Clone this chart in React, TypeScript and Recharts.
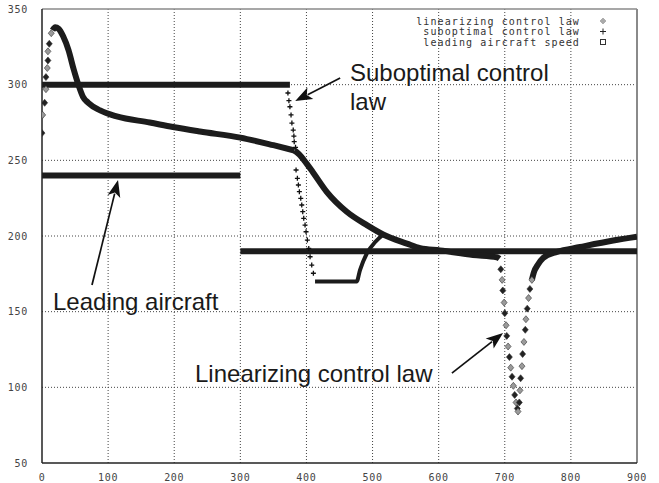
import {
  ComposedChart,
  Line,
  Scatter,
  XAxis,
  YAxis,
  CartesianGrid,
  ReferenceLine,
} from "recharts";

const xTicks = [0, 100, 200, 300, 400, 500, 600, 700, 800, 900];
const yTicks = [50, 100, 150, 200, 250, 300, 350];

// leading aircraft speed (two steps)
const leadAX = [0, 300];
const leadAY = [240, 240];
const leadBX = [300, 900];
const leadBY = [190, 190];

// linearizing control law
const linStartX = [0, 1, 4, 6, 6, 8, 9, 9, 11, 14];
const linStartY = [268, 280, 288, 297, 305, 311, 316, 322, 327, 334];
const linMainX = [16, 20, 25, 32, 40, 48, 55, 62, 70, 88, 113, 163, 198, 239, 300, 350, 382];
const linMainY = [336, 338, 337, 332, 323, 310, 300, 292, 288, 283, 279, 275, 272, 269, 265, 260, 256.5];
const linFallX = [382, 389, 400, 410, 431, 461, 492, 516, 552, 572, 602, 652, 688, 692];
const linFallY = [256.5, 254, 248, 242, 229, 216, 207, 201, 195, 192, 190.5, 187.5, 186, 185];
const linDipX = [694, 696, 697, 699, 700, 702, 703, 705, 707, 709, 711, 713, 715, 717, 719, 720, 722, 723, 724, 726, 727, 729, 731, 732, 734, 736, 738, 741];
const linDipY = [178, 171, 164, 156, 149, 141, 134, 127, 120, 113, 107, 101, 95, 90, 86, 84, 90, 98, 106, 114, 122, 130, 138, 145, 152, 159, 165, 171];
const linEndX = [741, 744, 750, 758, 779, 814, 864, 900];
const linEndY = [171, 176, 181, 185.5, 189.5, 192.7, 197, 199.5];

// suboptimal control law
const subSatX = [-2, 375];
const subSatY = [300, 300];
const subDropX = [372, 373.5, 375, 376.7, 378, 380, 381, 381.5, 383.5, 384.3, 386.3, 387.8, 389.3, 391.4, 392.9, 394.4, 395.9, 397.9, 399.4, 401.4, 403.5, 405.5, 408, 410.5];
const subDropY = [294.5, 289.4, 285.4, 280, 274.6, 270, 266, 262.3, 258.6, 243.6, 238.1, 233.7, 229.3, 224.9, 220.5, 216.1, 211.7, 207.2, 202.8, 197.3, 191.8, 186.3, 180.8, 175.4];
const subFloorX = [413, 476, 481, 492, 504, 516];
const subFloorY = [170, 170, 177.5, 189, 196, 201];

const legendNames = ["linearizing control law", "suboptimal control law", "leading aircraft speed"];

const pts = (xs: number[], ys: number[]) => xs.map((x, i) => ({ x, y: ys[i], i }));

const MONO = "'DejaVu Sans Mono', monospace";
const SANS = "'Liberation Sans', Arial, sans-serif";
const INK = "#1c1c1c";

const Diamond = (props: any) => {
  const { cx, cy, payload } = props;
  const fill = payload && payload.i % 2 ? "#9a9a9a" : "#222";
  return <path d={`M${cx},${cy - 3.5}L${cx + 3},${cy}L${cx},${cy + 3.5}L${cx - 3},${cy}Z`} fill={fill} stroke="#333" strokeWidth={0.6} />;
};

const Plus = (props: any) => {
  const { cx, cy } = props;
  return <path d={`M${cx - 2.5},${cy}H${cx + 2.5}M${cx},${cy - 2.5}V${cy + 2.5}`} stroke="#111" strokeWidth={1.3} />;
};

const Arrow = (props: any) => {
  const { x1, y1, x2, y2 } = props;
  if ([x1, y1, x2, y2].some((v) => typeof v !== "number")) return null;
  const dx = x2 - x1;
  const dy = y2 - y1;
  const len = Math.hypot(dx, dy);
  const ux = dx / len;
  const uy = dy / len;
  const hl = 17;
  const hw = 6.5;
  const bx = x2 - ux * hl;
  const by = y2 - uy * hl;
  return (
    <g>
      <line x1={x1} y1={y1} x2={bx + ux * 3} y2={by + uy * 3} stroke="#111" strokeWidth={1.7} />
      <path d={`M${x2},${y2}L${bx - uy * hw},${by + ux * hw}L${bx + ux * 4},${by + uy * 4}L${bx + uy * hw},${by - ux * hw}Z`} fill="#111" />
    </g>
  );
};

const thick = { stroke: INK, dot: false, isAnimationActive: false, strokeLinecap: "butt" as const, legendType: "none" as const };

export default function App() {
  return (
    <div style={{ position: "absolute", left: 0, top: 0, width: 659, height: 483, background: "#fff" }}>
      <ComposedChart width={659} height={483} margin={{ top: 9, right: 22, bottom: 0, left: 0 }}>
        <XAxis
          dataKey="x"
          type="number"
          domain={[0, 900]}
          ticks={xTicks}
          allowDataOverflow
          height={20}
          tickLine={false}
          tickMargin={5}
          axisLine={{ stroke: "#222", strokeWidth: 1.5 }}
          tick={{ fill: "#444", fontFamily: MONO, fontSize: 10, letterSpacing: 0.7 }}
        />
        <YAxis
          type="number"
          domain={[50, 350]}
          ticks={yTicks}
          allowDataOverflow
          width={42}
          tickLine={false}
          tickMargin={8}
          axisLine={{ stroke: "#222", strokeWidth: 1.5 }}
          tick={{ fill: "#444", fontFamily: MONO, fontSize: 10, letterSpacing: 0.7 }}
        />
        {xTicks.slice(1, -1).map((v) => (
          <ReferenceLine key={`gx${v}`} x={v} stroke="#444" strokeWidth={1} strokeDasharray="1 2" />
        ))}
        {yTicks.slice(1, -1).map((v) => (
          <ReferenceLine key={`gy${v}`} y={v} stroke="#444" strokeWidth={1} strokeDasharray="1 2" />
        ))}
        <ReferenceLine y={350} stroke="#8a8a8a" strokeWidth={1.5} />
        <ReferenceLine x={900} stroke="#8a8a8a" strokeWidth={2} />

        <Line {...thick} data={pts(leadAX, leadAY)} dataKey="y" strokeWidth={6} />
        <Line {...thick} data={pts(leadBX, leadBY)} dataKey="y" strokeWidth={6} />
        <Line {...thick} data={pts(subSatX, subSatY)} dataKey="y" strokeWidth={6} />
        <Line {...thick} type="monotone" data={pts(linMainX, linMainY)} dataKey="y" strokeWidth={6} />
        <Line {...thick} type="monotone" data={pts(linFallX, linFallY)} dataKey="y" strokeWidth={6} />
        <Line {...thick} type="monotone" data={pts(linEndX, linEndY)} dataKey="y" strokeWidth={6} />
        <Line {...thick} type="monotone" data={pts(subFloorX, subFloorY)} dataKey="y" strokeWidth={4} />
        <Scatter data={pts(linStartX, linStartY)} dataKey="y" shape={Diamond} isAnimationActive={false} legendType="none" />
        <Scatter data={pts(linDipX, linDipY)} dataKey="y" shape={Diamond} isAnimationActive={false} legendType="none" />
        <Scatter data={pts(subDropX, subDropY)} dataKey="y" shape={Plus} isAnimationActive={false} legendType="none" />

        <ReferenceLine segment={[{ x: 451, y: 304.4 }, { x: 383, y: 289.2 }]} shape={Arrow} ifOverflow="visible" />
        <ReferenceLine segment={[{ x: 75.6, y: 167.6 }, { x: 115, y: 237 }]} shape={Arrow} ifOverflow="visible" />
        <ReferenceLine segment={[{ x: 620, y: 109.4 }, { x: 697.4, y: 135.9 }]} shape={Arrow} ifOverflow="visible" />
      </ComposedChart>
      <svg width={659} height={483} style={{ position: "absolute", left: 0, top: 0, pointerEvents: "none" }}>
        <g>
          {legendNames.map((name, k) => {
            const cy = 21 + k * 10.5;
            return (
              <g key={name}>
                <text x={580} y={cy} textAnchor="end" dominantBaseline="central" fontFamily={MONO} fontSize={10} letterSpacing={1.1} fill="#333">
                  {name}
                </text>
                {k === 0 && <path d={`M603,${cy - 3}L606,${cy}L603,${cy + 3}L600,${cy}Z`} fill="#aaa" stroke="#888" strokeWidth={0.5} />}
                {k === 1 && <path d={`M600,${cy}H606M603,${cy - 3}V${cy + 3}`} stroke="#222" strokeWidth={1} />}
                {k === 2 && <rect x={600.5} y={cy - 2.5} width={5} height={5} fill="none" stroke="#333" strokeWidth={1} />}
              </g>
            );
          })}
        </g>
        <g fontFamily={SANS} fontSize={24} fill="#1a1a1a">
          <text x={350} y={81}>Suboptimal control</text>
          <text x={350} y={110}>law</text>
          <text x={53} y={310}>Leading aircraft</text>
          <text x={195} y={382}>Linearizing control law</text>
        </g>
      </svg>
    </div>
  );
}
